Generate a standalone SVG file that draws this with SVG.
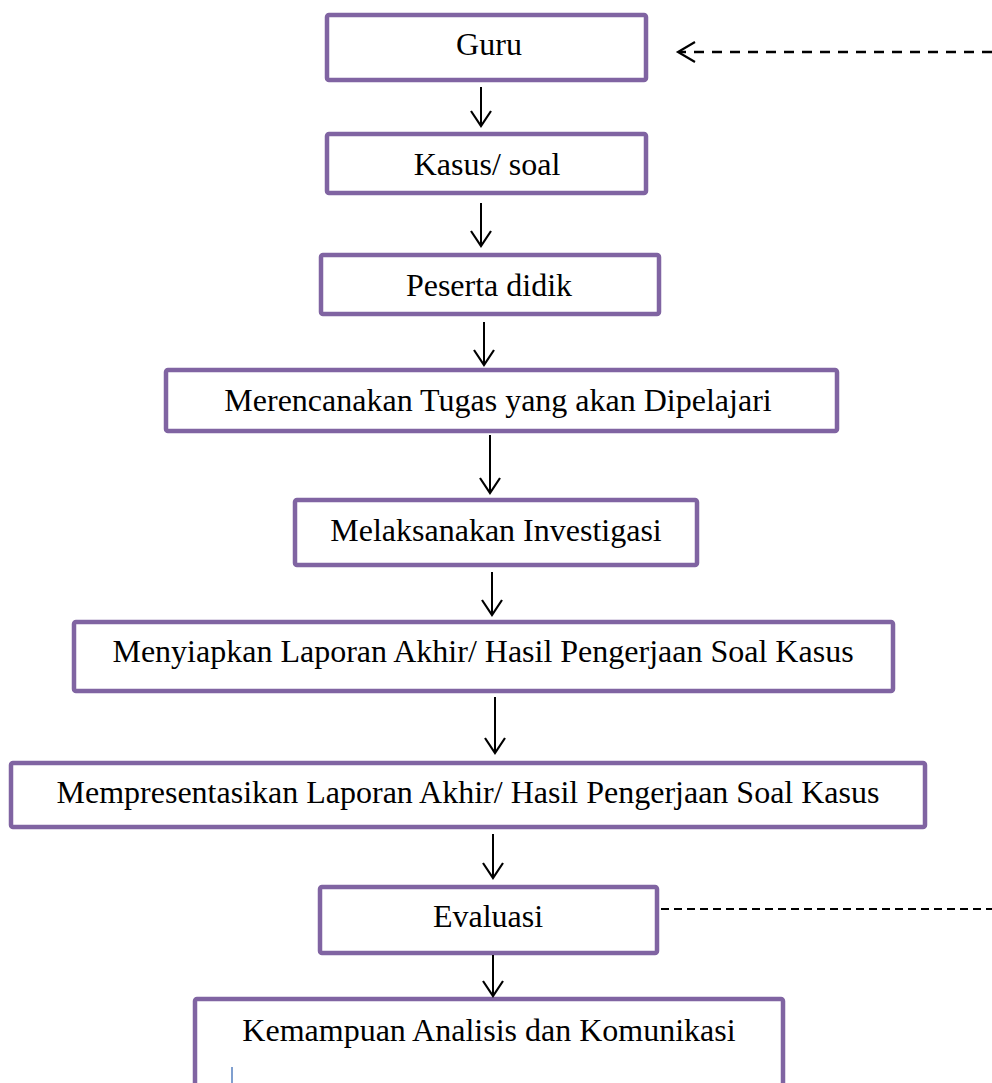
<svg xmlns="http://www.w3.org/2000/svg" width="992" height="1083" viewBox="0 0 992 1083">
<style>
.box{fill:#ffffff;stroke:#8064A2;stroke-width:4.5}
.lbl{font-family:"Liberation Serif","Times New Roman",serif;font-size:32px;fill:#000;text-anchor:middle}
.arr{stroke:#000;stroke-width:2;fill:none}
.head{stroke:#000;stroke-width:2.2;fill:none}
.dash1{stroke:#000;stroke-width:2.5;fill:none;stroke-dasharray:10 8}
.dash2{stroke:#000;stroke-width:2;fill:none;stroke-dasharray:8 5}
</style>
<rect width="992" height="1083" fill="#ffffff"/>
<g id="n-guru"><rect class="box" x="327" y="15" width="319" height="65" rx="2"/><text class="lbl" x="489" y="55">Guru</text></g>
<g id="n-kasus"><rect class="box" x="327" y="134" width="319" height="59" rx="2"/><text class="lbl" x="487" y="175">Kasus/ soal</text></g>
<g id="n-peserta"><rect class="box" x="321" y="255" width="338" height="59" rx="2"/><text class="lbl" x="489" y="296">Peserta didik</text></g>
<g id="n-merencanakan"><rect class="box" x="166" y="370" width="671" height="61" rx="2"/><text class="lbl" x="498" y="411">Merencanakan Tugas yang akan Dipelajari</text></g>
<g id="n-melaksanakan"><rect class="box" x="295" y="500" width="402" height="65" rx="2"/><text class="lbl" x="496" y="541">Melaksanakan Investigasi</text></g>
<g id="n-menyiapkan"><rect class="box" x="74" y="622" width="819" height="69" rx="2"/><text class="lbl" x="483" y="662">Menyiapkan Laporan Akhir/ Hasil Pengerjaan Soal Kasus</text></g>
<g id="n-mempresentasikan"><rect class="box" x="11" y="763" width="914" height="64" rx="2"/><text class="lbl" x="468" y="803">Mempresentasikan Laporan Akhir/ Hasil Pengerjaan Soal Kasus</text></g>
<g id="n-evaluasi"><rect class="box" x="320" y="887" width="337" height="66" rx="2"/><text class="lbl" x="488" y="927">Evaluasi</text></g>
<g id="n-kemampuan"><rect class="box" x="195" y="999" width="588" height="120" rx="2"/><text class="lbl" x="489" y="1041">Kemampuan Analisis dan Komunikasi</text><line x1="232" y1="1067" x2="232" y2="1083" stroke="#7f9fcf" stroke-width="2"/></g>
<g id="connectors">
<line class="arr" x1="481" y1="87" x2="481" y2="126"/><path class="head" d="M471,111 L481,126 L491,111"/>
<line class="arr" x1="481" y1="203" x2="481" y2="246"/><path class="head" d="M471,231 L481,246 L491,231"/>
<line class="arr" x1="484" y1="322" x2="484" y2="365"/><path class="head" d="M474,350 L484,365 L494,350"/>
<line class="arr" x1="490" y1="435" x2="490" y2="493"/><path class="head" d="M480,478 L490,493 L500,478"/>
<line class="arr" x1="492" y1="572" x2="492" y2="615"/><path class="head" d="M482,600 L492,615 L502,600"/>
<line class="arr" x1="495" y1="697" x2="495" y2="753"/><path class="head" d="M485,738 L495,753 L505,738"/>
<line class="arr" x1="493" y1="834" x2="493" y2="878"/><path class="head" d="M483,863 L493,878 L503,863"/>
<line class="arr" x1="493" y1="955" x2="493" y2="996"/><path class="head" d="M483,981 L493,996 L503,981"/>
<line class="dash1" x1="992" y1="52" x2="680" y2="52"/><path class="head" d="M695,42 L678,52 L695,62"/>
<line class="dash2" x1="661" y1="909" x2="992" y2="909"/>
</g>
</svg>
